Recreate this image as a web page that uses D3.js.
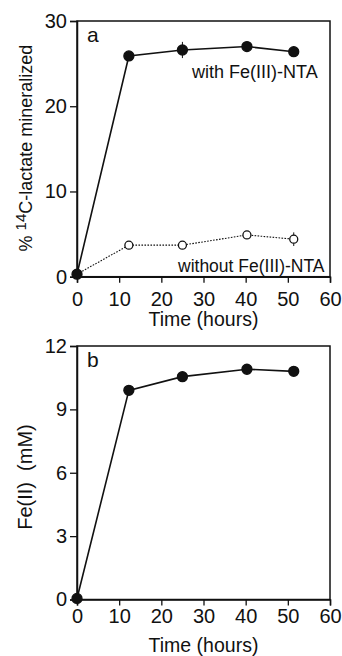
<!DOCTYPE html>
<html>
<head>
<meta charset="utf-8">
<script src="https://cdn.jsdelivr.net/npm/d3@7"></script>
<style>
  body { margin: 0; background: #fff; }
  svg { display: block; font-family: "Liberation Sans", Arial, sans-serif; }
  text { fill: #111; }
</style>
</head>
<body>
<div class="canvas"></div>
<script>
// data
const hours = [0, 12.3, 25, 40.3, 51.4];
const withNTA = [0.3, 25.9, 26.6, 27.0, 26.4];
const withNTAErr = [0, 0.3, 0.95, 0.3, 0.6];
const withoutNTA = [0.3, 3.7, 3.7, 4.9, 4.4];
const withoutNTAErr = [0, 0.3, 0.3, 0.3, 0.8];
const fe2 = [0.05, 9.9, 10.55, 10.9, 10.8];

const xTicks = [0, 10, 20, 30, 40, 50, 60];
const yTicksA = [0, 10, 20, 30];
const yTicksB = [0, 3, 6, 9, 12];

const svg = d3.select('.canvas')
    .append('svg')
    .attr('width', 342)
    .attr('height', 656);

const x = d3.scaleLinear().domain([0, 60]).range([77, 330]);

const drawPanel = (p) => {
    const y = d3.scaleLinear().domain([0, p.yMax]).range([p.bottom, p.top]);
    const g = svg.append('g');

    // frame
    g.append('rect')
        .attr('x', x(0)).attr('y', y(p.yMax))
        .attr('width', x(60) - x(0)).attr('height', y(0) - y(p.yMax))
        .attr('fill', 'none').attr('stroke', '#111').attr('stroke-width', 1.5);

    // x axis
    const xAxis = g.append('g')
        .attr('transform', `translate(0, ${y(0)})`)
        .call(d3.axisBottom(x).tickValues(xTicks).tickSize(6).tickPadding(p.xPad));
    // y axis
    const yAxis = g.append('g')
        .attr('transform', `translate(${x(0)}, 0)`)
        .call(d3.axisLeft(y).tickValues(p.yTicks).tickSize(7).tickPadding(3));

    [xAxis, yAxis].forEach(a => {
        a.select('.domain').attr('stroke', '#111').attr('stroke-width', 1.5);
        a.selectAll('.tick line').attr('stroke', '#111').attr('stroke-width', 1.3);
        a.selectAll('.tick text')
            .attr('font-size', 20)
            .attr('font-family', '"Liberation Sans", Arial, sans-serif')
            .attr('fill', '#111');
    });

    g.append('text')
        .attr('x', x(30)).attr('y', p.xTitleY)
        .attr('text-anchor', 'middle')
        .attr('font-size', 19.5)
        .text('Time (hours)');

    g.append('text')
        .attr('x', x(0) + 10).attr('y', y(p.yMax) + 21)
        .attr('font-size', 21)
        .text(p.letter);

    const line = d3.line()
        .x(d => x(d.t))
        .y(d => y(d.v));

    p.series.forEach(s => {
        const pts = hours.map((t, i) => ({ t, v: s.values[i], e: s.err ? s.err[i] : 0 }));

        g.append('path')
            .attr('d', line(pts))
            .attr('fill', 'none')
            .attr('stroke', '#111')
            .attr('stroke-width', s.filled ? 1.6 : 1.1)
            .attr('stroke-dasharray', s.filled ? null : '1.6,1.4');

        g.selectAll(null)
            .data(pts.filter(d => d.e > 0))
            .enter()
            .append('line')
            .attr('x1', d => x(d.t)).attr('x2', d => x(d.t))
            .attr('y1', d => y(d.v - d.e)).attr('y2', d => y(d.v + d.e))
            .attr('stroke', '#111').attr('stroke-width', 1);

        g.selectAll(null)
            .data(s.filled ? pts : pts.slice(1))
            .enter()
            .append('circle')
            .attr('cx', d => x(d.t))
            .attr('cy', d => y(d.v))
            .attr('r', s.filled ? 5 : 4)
            .attr('fill', s.filled ? '#111' : '#fff')
            .attr('stroke', '#111')
            .attr('stroke-width', 1.3);
    });

    return { g, y };
};

// panel a
const a = drawPanel({
    top: 21, bottom: 276.7, yMax: 30, yTicks: yTicksA, letter: 'a',
    xPad: 9, xTitleY: 326,
    series: [
        { values: withoutNTA, err: withoutNTAErr, filled: false },
        { values: withNTA, err: withNTAErr, filled: true }
    ]
});

a.g.append('text')
    .attr('x', 192).attr('y', 78)
    .attr('font-size', 18)
    .text('with Fe(III)-NTA');

a.g.append('text')
    .attr('x', 178).attr('y', 272)
    .attr('font-size', 17.5)
    .text('without Fe(III)-NTA');

const yTitleA = a.g.append('text')
    .attr('transform', 'translate(32, 148) rotate(-90)')
    .attr('text-anchor', 'middle')
    .attr('font-size', 18);
yTitleA.append('tspan').text('% ');
yTitleA.append('tspan').attr('font-size', 15).attr('dy', -6).text('14');
yTitleA.append('tspan').attr('dy', 6).text('C-lactate mineralized');

// panel b
const b = drawPanel({
    top: 346, bottom: 599.5, yMax: 12, yTicks: yTicksB, letter: 'b',
    xPad: 3, xTitleY: 652,
    series: [
        { values: fe2, filled: true }
    ]
});

b.g.append('text')
    .attr('transform', 'translate(32, 477) rotate(-90)')
    .attr('text-anchor', 'middle')
    .attr('font-size', 20)
    .style('white-space', 'pre')
    .text('Fe(II)  (mM)');
</script>
</body>
</html>
